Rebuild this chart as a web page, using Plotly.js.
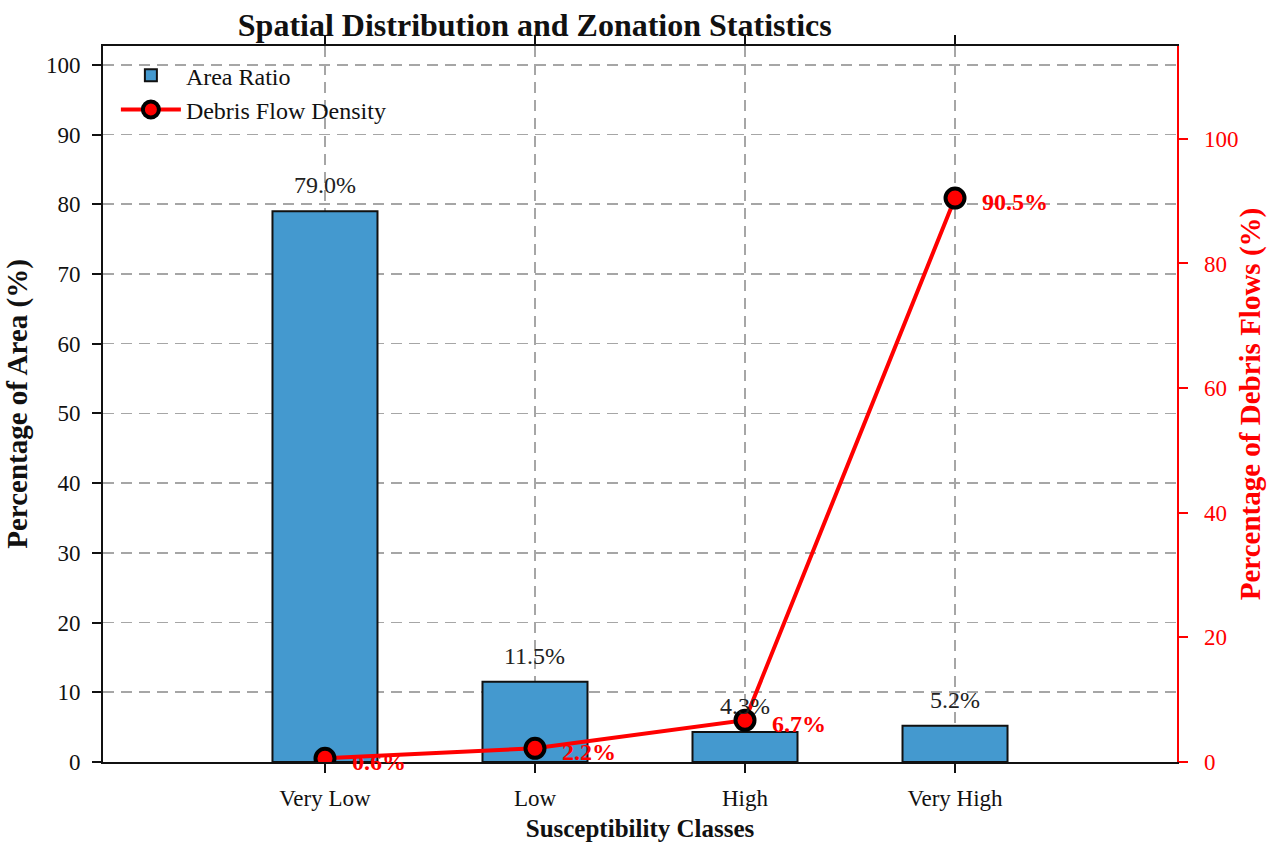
<!DOCTYPE html>
<html>
<head>
<meta charset="utf-8">
<script src="https://cdn.plot.ly/plotly-3.0.1.min.js"></script>
<style>
	body { margin: 0; background: white; }
	#chart { width: 1286px; height: 860px; }
</style>
</head>
<body>
<div id="chart"></div>
<script>
// susceptibility classes and the two series
const classes = ["Very Low", "Low", "High", "Very High"]
const areaRatio = [79.0, 11.5, 4.3, 5.2]
const debrisDensity = [0.6, 2.2, 6.7, 90.5]

const serif = "Liberation Serif, Times New Roman, serif"
const barColor = "#4499cf"

var bars = {
	type: "bar",
	name: "Area Ratio",
	x: classes,
	y: areaRatio,
	width: 0.5,
	marker: { color: barColor, line: { color: "#111", width: 2 } },
	yaxis: "y"
}

var line = {
	type: "scatter",
	mode: "lines+markers",
	name: "Debris Flow Density",
	x: classes,
	y: debrisDensity,
	line: { color: "#ff0000", width: 4 },
	marker: { color: "#ff0000", size: 19, line: { color: "#000", width: 4 } },
	yaxis: "y2"
}

// value labels
var annotations = []
for (var i = 0; i < classes.length; ++i)
{
	annotations.push({
		x: classes[i], y: areaRatio[i], xref: "x", yref: "y",
		text: areaRatio[i].toFixed(1) + "%",
		showarrow: false, yanchor: "bottom", yshift: 11,
		font: { family: serif, size: 24, color: "#222" }
	})
	annotations.push({
		x: classes[i], y: debrisDensity[i], xref: "x", yref: "y2",
		text: "<b>" + debrisDensity[i].toFixed(1) + "%</b>",
		showarrow: false, xanchor: "left", xshift: 25, yshift: -4,
		font: { family: serif, size: 24, color: "#ff0000" }
	})
}

var gridDash = "11px,7px"

var layout = {
	width: 1286,
	height: 860,
	margin: { l: 103, r: 109, t: 46, b: 98, pad: 0 },
	paper_bgcolor: "white",
	plot_bgcolor: "white",
	font: { family: serif, size: 23, color: "#111" },
	title: {
		text: "<b>Spatial Distribution and Zonation Statistics</b>",
		font: { family: serif, size: 32, color: "#111" },
		xref: "paper", x: 0.402, xanchor: "center",
		yref: "container", y: 0.971, yanchor: "middle"
	},
	showlegend: true,
	legend: {
		x: 0.012, y: 0.99, xanchor: "left", yanchor: "top",
		bgcolor: "rgba(0,0,0,0)",
		font: { family: serif, size: 24, color: "#111" },
		itemwidth: 60,
		tracegroupgap: 0
	},
	xaxis: {
		type: "category",
		range: [-1.057, 3 + 1.057],
		showline: true, linecolor: "#111", linewidth: 2,
		mirror: "ticks",
		ticks: "outside", ticklen: 9, tickwidth: 2, tickcolor: "#111",
		ticklabelstandoff: 5,
		showgrid: true, gridcolor: "#a6a6a6", gridwidth: 1.6, griddash: gridDash,
		tickfont: { family: serif, size: 23, color: "#111" },
		title: {
			text: "<b>Susceptibility Classes</b>",
			font: { family: serif, size: 25, color: "#111" },
			standoff: 10
		},
		zeroline: false
	},
	yaxis: {
		range: [0, 102.7],
		dtick: 10,
		showline: true, linecolor: "#111", linewidth: 2,
		ticks: "outside", ticklen: 9, tickwidth: 2, tickcolor: "#111",
		ticklabelstandoff: 7,
		showgrid: true, gridcolor: "#a6a6a6", gridwidth: 1.6, griddash: gridDash,
		tickfont: { family: serif, size: 23, color: "#111" },
		title: {
			text: "<b>Percentage of Area (%)</b>",
			font: { family: serif, size: 29, color: "#111" },
			standoff: 10
		},
		zeroline: false
	},
	yaxis2: {
		overlaying: "y",
		side: "right",
		range: [0, 114.9],
		dtick: 20,
		showline: true, linecolor: "#ff0000", linewidth: 2,
		ticks: "outside", ticklen: 9, tickwidth: 2, tickcolor: "#ff0000",
		tickprefix: "\u00A0\u00A0",
		showgrid: false,
		tickfont: { family: serif, size: 23, color: "#ff0000" },
		title: {
			text: "<b>Percentage of Debris Flows (%)</b>",
			font: { family: serif, size: 29, color: "#ff0000" },
			standoff: 2
		},
		zeroline: false
	},
	annotations: annotations
}

Plotly.newPlot("chart", [bars, line], layout, { displayModeBar: false, staticPlot: true })
</script>
</body>
</html>
